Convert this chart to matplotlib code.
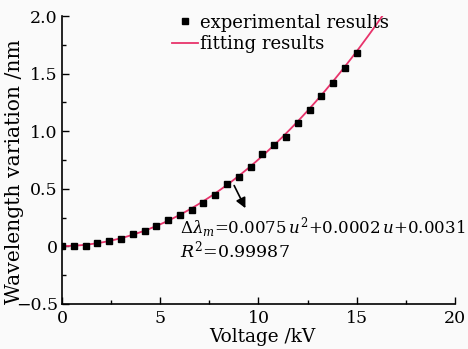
import numpy as np
import matplotlib
matplotlib.use("Agg")
import matplotlib.pyplot as plt
from matplotlib.ticker import MultipleLocator, FixedLocator, FixedFormatter

# data
voltage = [0.0, 0.6, 1.2, 1.8, 2.4, 3.0, 3.6, 4.2, 4.8, 5.4, 6.0, 6.6, 7.2,
           7.8, 8.4, 9.0, 9.6, 10.2, 10.8, 11.4, 12.0, 12.6, 13.2, 13.8,
           14.4, 15.0]
wavelength = [0.0, 0.0, 0.0, 0.029, 0.046, 0.067, 0.11, 0.13, 0.176, 0.226,
              0.27, 0.318, 0.376, 0.45, 0.544, 0.60, 0.69, 0.80, 0.877,
              0.949, 1.07, 1.18, 1.31, 1.42, 1.55, 1.68]
fit_coef = [0.0075, 0.0002, 0.0031]          # a*u^2 + b*u + c
fit_range = [0.0, 16.6]
y_ticks = [-0.5, 0, 0.5, 1.0, 1.5, 2.0]
y_ticklabels = ["\u22120.5", "0", "0.5", "1.0", "1.5", "2.0"]
x_ticks = [0, 5, 10, 15, 20]

plt.rcParams["font.family"] = ["DejaVu Serif"]
plt.rcParams["mathtext.fontset"] = "dejavuserif"

fig = plt.figure(figsize=(4.68, 3.49), dpi=100)
fig.patch.set_facecolor("#fafafa")
ax = fig.add_axes([0.1325, 0.129, 0.8395, 0.825])
ax.set_facecolor("#fafafa")

u = np.linspace(fit_range[0], fit_range[1], 300)
ax.plot(u, np.polyval(fit_coef, u), color="#e8336b", lw=1.3,
        label="fitting results", zorder=2)
ax.plot(voltage, wavelength, ls="none", marker="s", ms=5, color="black",
        label="experimental results", zorder=3)

ax.set_xlim(0, 20)
ax.set_ylim(-0.5, 2.0)
ax.xaxis.set_major_locator(FixedLocator(x_ticks))
ax.xaxis.set_minor_locator(MultipleLocator(2.5))
ax.yaxis.set_major_locator(FixedLocator(y_ticks))
ax.yaxis.set_major_formatter(FixedFormatter(y_ticklabels))
ax.yaxis.set_minor_locator(MultipleLocator(0.25))
ax.tick_params(which="both", direction="in", labelsize=12.5, width=1.0)
ax.tick_params(which="major", length=5)
ax.tick_params(which="minor", length=3)
ax.tick_params(axis="x", pad=4)
ax.tick_params(axis="y", pad=3)

for side in ("top", "right"):
    ax.spines[side].set_visible(False)
for side in ("left", "bottom"):
    ax.spines[side].set_linewidth(1.2)

ax.set_xlabel("Voltage /kV", fontsize=13.3)
ax.xaxis.set_label_coords(0.51, -0.085)
ax.set_ylabel("Wavelength variation /nm", fontsize=14.6)
ax.yaxis.set_label_coords(-0.097, 0.46)

handles, labels = ax.get_legend_handles_labels()
ax.legend(handles[::-1], labels[::-1], loc="upper left",
          bbox_to_anchor=(0.28, 1.008), frameon=False, fontsize=13,
          handlelength=1.45, handletextpad=0.1, labelspacing=0.2,
          borderpad=0, borderaxespad=0)

ax.annotate("", xy=(9.4, 0.31), xytext=(8.7, 0.55),
            arrowprops=dict(arrowstyle="-|>", color="black", lw=1.2,
                            mutation_scale=15))
ax.text(6.0, 0.113, r"$\Delta\lambda_m$=0.0075$\,u^2$+0.0002$\,u$+0.0031",
        fontsize=12, va="baseline", ha="left")
ax.text(6.0, -0.095, r"$R^2$=0.99987", fontsize=12.5, va="baseline", ha="left")

fig.savefig("out.png", dpi=100, facecolor=fig.get_facecolor())
